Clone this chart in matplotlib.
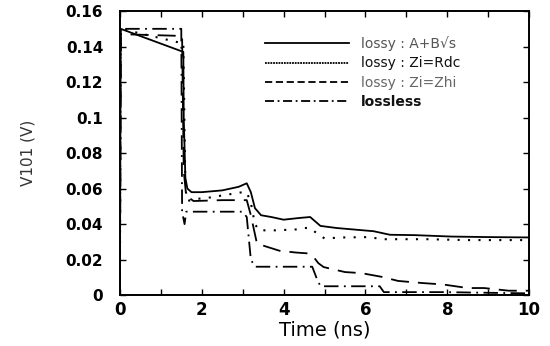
import matplotlib
matplotlib.use("Agg")
import matplotlib.pyplot as plt
from matplotlib.lines import Line2D
from matplotlib.ticker import MultipleLocator

# time (ns) / voltage (V)
t_abs = [0, 0.02, 1.55, 1.56, 1.6, 1.65, 1.75, 2.0, 2.5, 2.9, 3.1, 3.2, 3.3, 3.45,
         3.7, 4.0, 4.4, 4.65, 4.75, 4.9, 5.3, 5.7, 6.2, 6.6, 7.2, 8.1, 9.0, 10]
v_abs = [0, 0.150, 0.137, 0.10, 0.066, 0.060, 0.058, 0.058, 0.059, 0.061, 0.063, 0.058,
         0.049, 0.045, 0.044, 0.0425, 0.0435, 0.044, 0.042, 0.039, 0.0378, 0.037,
         0.036, 0.034, 0.0338, 0.033, 0.0327, 0.0325]

t_rdc = [0, 0.02, 1.5, 1.55, 1.6, 1.65, 1.8, 2.2, 2.6, 3.0, 3.1, 3.2, 3.3, 3.4,
         3.8, 4.3, 4.6, 4.7, 4.85, 5.0, 5.5, 6.1, 6.4, 6.8, 7.5, 8.5, 9.2, 10]
v_rdc = [0, 0.150, 0.142, 0.142, 0.060, 0.053, 0.054, 0.055, 0.0565, 0.058, 0.058,
         0.052, 0.040, 0.0365, 0.0365, 0.037, 0.038, 0.037, 0.034, 0.032, 0.0325,
         0.0327, 0.0315, 0.0315, 0.0315, 0.031, 0.031, 0.031]

t_zhi = [0, 0.02, 1.5, 1.52, 1.56, 1.62, 1.8, 2.5, 3.0, 3.1, 3.2, 3.35, 3.9, 4.3,
         4.6, 4.75, 4.85, 4.98, 5.5, 5.9, 6.4, 6.8, 7.4, 7.9, 8.5, 8.9, 9.5, 10]
v_zhi = [0, 0.147, 0.146, 0.146, 0.07, 0.056, 0.053, 0.0535, 0.0535, 0.0535, 0.045,
         0.029, 0.025, 0.024, 0.0235, 0.021, 0.018, 0.0158, 0.013, 0.0124, 0.0103,
         0.008, 0.0068, 0.006, 0.004, 0.004, 0.0025, 0.0025]

t_ll = [0, 0.02, 1.5, 1.52, 1.58, 1.62, 1.7, 3.0, 3.1, 3.2, 3.3, 4.7, 4.8, 4.9,
        6.35, 6.45, 7.9, 10]
v_ll = [0, 0.150, 0.150, 0.047, 0.040, 0.047, 0.047, 0.047, 0.044, 0.020, 0.016,
        0.016, 0.010, 0.005, 0.005, 0.0017, 0.0017, 0.001]

labels = ["lossy : A+B\u221as", "lossy : Zi=Rdc", "lossy : Zi=Zhi", "lossless"]

fig = plt.figure(figsize=(5.5, 3.46), dpi=100)
ax = fig.add_axes([0.218, 0.147, 0.744, 0.821])

lw = 1.3
ax.plot(t_abs, v_abs, color="black", lw=lw)
ax.plot(t_rdc, v_rdc, color="black", lw=1.5, dashes=(1, 4))
ax.plot(t_zhi, v_zhi, color="black", lw=lw, dashes=(10, 5))
ax.plot(t_ll, v_ll, color="black", lw=lw, dashes=(8, 3, 1, 3))

ax.set_xlim(0, 10)
ax.set_ylim(0, 0.16)
ax.xaxis.set_major_locator(MultipleLocator(2))
ax.xaxis.set_minor_locator(MultipleLocator(1))
ax.set_yticks([0, 0.02, 0.04, 0.06, 0.08, 0.1, 0.12, 0.14, 0.16])
ax.set_yticklabels(["0", "0.02", "0.04", "0.06", "0.08", "0.1", "0.12", "0.14", "0.16"])
ax.tick_params(which="both", direction="in", top=True, right=True, width=1.0, length=4)
ax.tick_params(axis="y", pad=12, labelsize=11)
ax.tick_params(axis="x", pad=4, labelsize=12)
for lab in ax.get_xticklabels() + ax.get_yticklabels():
    lab.set_fontweight("bold")
for s in ax.spines.values():
    s.set_linewidth(1.4)

ax.set_xlabel("Time (ns)", fontsize=14, labelpad=1)
ax.set_ylabel("V101 (V)", fontsize=11, color="#333333", labelpad=22)

handles = [
    Line2D([], [], color="black", lw=lw),
    Line2D([], [], color="black", lw=lw, dashes=(1, 0.5)),
    Line2D([], [], color="black", lw=lw, dashes=(4, 2)),
    Line2D([], [], color="black", lw=lw, dashes=(5, 2, 1, 2)),
]
leg = ax.legend(handles, labels, loc="upper left", bbox_to_anchor=(0.325, 0.955),
                frameon=False, fontsize=10, handlelength=6.0, handletextpad=0.9,
                labelspacing=0.38)
for txt, c in zip(leg.get_texts(), ["#555555", "#111111", "#666666", "#111111"]):
    txt.set_color(c)
leg.get_texts()[3].set_fontweight("bold")

fig.savefig("out.png", dpi=100, facecolor="white")
